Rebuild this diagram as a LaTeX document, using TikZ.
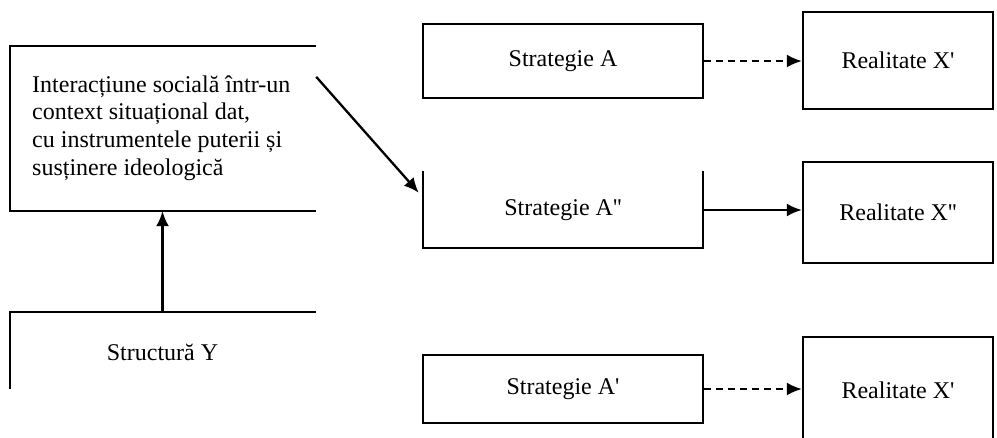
\documentclass[tikz,border=0pt]{standalone}
\usepackage{fontspec}
\setmainfont{Liberation Serif}
\usetikzlibrary{arrows.meta,calc}
\newcommand{\pr}{\textquotesingle}

\begin{document}
\begin{tikzpicture}[x=1pt,y=-1pt,
  every node/.style={font=\fontsize{24}{27.6}\selectfont, inner sep=0pt},
  edge/.style={line width=2.3pt, line cap=rect},
  box/.style={draw, line width=2.3pt, minimum width=#1},
  box/.default=280,
  arr/.style={line width=2.3pt, -{Latex[length=15pt,width=13pt]}},
  darr/.style={arr, dash pattern=on 7pt off 5pt}]
\useasboundingbox (0,0) rectangle (997,438);
\clip (0,0) rectangle (997,438);

% left column
\node[minimum width=305, minimum height=165] (inter) at (162.5,128.5) {};
\node[anchor=west, align=left] (intertext) at (32,128)
  {Interacțiune socială într-un\\context situațional dat,\\cu instrumentele puterii și\\susținere ideologică};
\draw[edge] (inter.north east) -- (inter.north west) -- (inter.south west) -- (inter.south east);

\node[minimum width=305, minimum height=80] (struct) at (162.5,352) {Structură Y};
\draw[edge] (struct.north east) -- (struct.north west) -- ($(struct.north west)+(0,76)$);

% middle column
\node[box, minimum height=74] (sA) at (563,61) {Strategie A};
\node[minimum width=280, minimum height=76] (sA2) at (563,210) {Strategie A\pr\pr};
\draw[edge] (sA2.north west) -- (sA2.south west) -- (sA2.south east) -- (sA2.north east);
\node[box, minimum height=68] (sA1) at (563,389) {Strategie A\pr};

% right column
\node[box=190, minimum height=97] (rX1) at (898,60.5) {Realitate X\pr};
\node[box=190, minimum height=101] (rX2) at (898,212.5) {Realitate X\pr\pr};
\node[box=190, minimum height=106] (rX3) at (898,390) {Realitate X\pr};

% connectors
\draw[arr] (struct.north) -- (inter.south);
\coordinate (dstart) at ($(inter.north east)+(1,31)$);
\coordinate (dend) at ($(sA2.north west)+(-4,21)$);
\draw[arr] (dstart) -- (dend);
\draw[darr] (sA.east) -- (sA.east -| rX1.west);
\draw[arr] (sA2.east) -- (sA2.east -| rX2.west);
\draw[darr] (sA1.east) -- (sA1.east -| rX3.west);
\end{tikzpicture}
\end{document}
